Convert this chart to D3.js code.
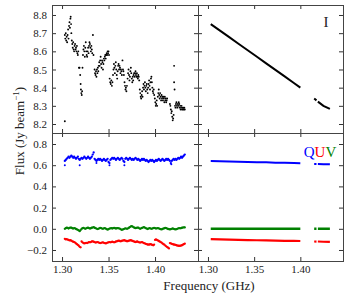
<!DOCTYPE html>
<html>
<head>
<meta charset="utf-8">
<script src="https://cdn.jsdelivr.net/npm/d3@7"></script>
<style>
  html, body { margin: 0; padding: 0; background: #fff; }
  svg { display: block; }
  text { font-family: "Liberation Serif", "DejaVu Serif", serif; fill: #222; }
</style>
</head>
<body>
<svg id="chart" width="350" height="300"></svg>
<script>
// ---------- DATA ----------
// Stokes I data points: [frequency GHz, flux Jy/beam]
const dataI = [
  [1.3030,8.215],
  [1.3030,8.69],[1.3035,8.67],[1.3040,8.70],[1.3045,8.66],[1.3050,8.68],[1.3055,8.65],[1.3060,8.69],[1.3065,8.72],[1.3070,8.67],[1.3075,8.74],[1.3080,8.76],[1.3085,8.73],[1.3090,8.78],[1.3093,8.79],[1.3097,8.75],[1.3100,8.70],[1.3105,8.66],
  [1.3110,8.64],[1.3115,8.62],[1.3120,8.65],[1.3125,8.61],[1.3130,8.60],[1.3135,8.63],[1.3140,8.64],[1.3145,8.61],[1.3150,8.62],[1.3155,8.60],[1.3160,8.63],[1.3165,8.59],[1.3170,8.58],[1.3175,8.60],
  [1.3182,8.51],[1.3188,8.51],[1.3195,8.47],[1.3200,8.42],[1.3203,8.39],[1.3207,8.37],[1.3212,8.36],[1.3216,8.38],[1.3220,8.51],
  [1.3225,8.58],[1.3230,8.61],[1.3235,8.63],[1.3240,8.60],[1.3245,8.57],[1.3250,8.62],[1.3255,8.65],[1.3260,8.60],[1.3265,8.58],[1.3270,8.57],[1.3275,8.60],[1.3280,8.62],[1.3285,8.59],[1.3290,8.63],[1.3295,8.65],[1.3300,8.64],[1.3305,8.62],[1.3310,8.60],[1.3315,8.63],[1.3320,8.61],[1.3325,8.59],[1.3332,8.69],[1.3338,8.58],
  [1.3350,8.50],[1.3355,8.48],[1.3360,8.47],[1.3365,8.49],[1.3370,8.46],[1.3375,8.50],[1.3380,8.48],[1.3385,8.51],[1.3390,8.49],[1.3395,8.52],[1.3400,8.54],
  [1.3405,8.52],[1.3410,8.55],[1.3415,8.57],[1.3420,8.53],[1.3425,8.51],[1.3430,8.55],[1.3435,8.54],[1.3440,8.50],[1.3445,8.53],[1.3450,8.56],[1.3455,8.55],[1.3460,8.57],[1.3465,8.58],[1.3470,8.56],[1.3475,8.58],[1.3480,8.59],[1.3485,8.58],[1.3490,8.60],[1.3495,8.59],[1.3500,8.60],[1.3505,8.58],
  [1.3512,8.45],[1.3518,8.43],[1.3524,8.42],[1.3530,8.44],[1.3536,8.41],[1.3542,8.43],
  [1.3548,8.47],[1.3553,8.50],[1.3558,8.53],[1.3563,8.51],[1.3568,8.48],[1.3573,8.52],[1.3578,8.54],[1.3583,8.50],[1.3588,8.47],[1.3593,8.45],[1.3598,8.49],[1.3603,8.52],[1.3608,8.53],[1.3613,8.50],[1.3618,8.52],[1.3623,8.51],[1.3628,8.48],[1.3633,8.50],[1.3638,8.49],[1.3643,8.47],[1.3650,8.55],[1.3655,8.50],[1.3660,8.49],[1.3665,8.47],
  [1.3672,8.43],[1.3677,8.41],[1.3682,8.39],[1.3687,8.40],[1.3692,8.38],[1.3698,8.41],
  [1.3705,8.45],[1.3710,8.48],[1.3715,8.50],[1.3720,8.47],[1.3725,8.44],[1.3730,8.46],[1.3735,8.49],[1.3740,8.51],[1.3745,8.48],[1.3750,8.45],[1.3755,8.43],[1.3760,8.46],[1.3765,8.44],[1.3770,8.47],[1.3775,8.48],
  [1.3780,8.46],[1.3785,8.48],[1.3790,8.49],[1.3795,8.47],[1.3800,8.46],[1.3805,8.48],[1.3810,8.46],[1.3815,8.45],[1.3820,8.47],[1.3825,8.46],[1.3830,8.44],
  [1.3836,8.39],[1.3841,8.37],[1.3846,8.35],[1.3851,8.34],[1.3856,8.36],[1.3861,8.38],[1.3866,8.35],
  [1.3871,8.40],[1.3876,8.42],[1.3881,8.39],[1.3886,8.41],[1.3891,8.43],[1.3896,8.40],[1.3901,8.38],[1.3906,8.41],[1.3911,8.42],[1.3916,8.39],[1.3921,8.37],[1.3926,8.40],[1.3931,8.42],[1.3936,8.44],[1.3941,8.41],[1.3946,8.39],[1.3951,8.43],[1.3956,8.45],[1.3961,8.46],[1.3966,8.43],[1.3971,8.40],[1.3976,8.38],[1.3981,8.37],[1.3986,8.39],[1.3991,8.36],
  [1.3998,8.34],[1.4003,8.32],[1.4008,8.30],[1.4013,8.31],[1.4018,8.33],[1.4023,8.30],
  [1.4030,8.35],[1.4035,8.37],[1.4040,8.39],[1.4045,8.36],[1.4050,8.34],[1.4055,8.37],[1.4060,8.35],[1.4065,8.33],[1.4070,8.36],[1.4075,8.34],[1.4080,8.35],[1.4085,8.33],[1.4090,8.35],[1.4095,8.34],[1.4100,8.32],[1.4105,8.35],[1.4110,8.33],[1.4115,8.34],[1.4120,8.32],[1.4125,8.33],[1.4130,8.34],
  [1.4160,8.31],[1.4165,8.30],[1.4170,8.28],[1.4175,8.26],[1.4180,8.27],[1.4185,8.24],[1.4190,8.22],[1.4195,8.23],[1.4200,8.25],
  [1.4205,8.52],[1.4205,8.43],[1.4210,8.39],
  [1.4215,8.30],[1.4220,8.29],[1.4225,8.31],[1.4230,8.32],[1.4235,8.30],[1.4240,8.29],[1.4245,8.31],[1.4250,8.30],[1.4255,8.32],[1.4260,8.31],[1.4265,8.29],[1.4270,8.30],[1.4275,8.28],[1.4280,8.29],[1.4285,8.30],[1.4290,8.28],[1.4295,8.29],[1.4300,8.28],[1.4305,8.29],[1.4310,8.28],[1.4315,8.29],[1.4320,8.28]
];

// Channel frequencies (GHz) for the Q, U, V data
const freqQUV = [
  1.303,1.304,1.305,1.306,1.307,1.308,1.309,1.310,1.311,1.312,1.313,1.314,1.315,1.316,1.317,1.318,1.319,1.320,1.321,1.322,
  1.323,1.324,1.325,1.326,1.327,1.328,1.329,1.330,1.331,1.332,1.333,1.334,1.335,1.336,1.337,1.338,1.339,1.340,1.341,1.342,
  1.343,1.344,1.345,1.346,1.347,1.348,1.349,1.350,1.351,1.352,1.353,1.354,1.355,1.356,1.357,1.358,1.359,1.360,1.361,1.362,
  1.363,1.364,1.365,1.366,1.367,1.368,1.369,1.370,1.371,1.372,1.373,1.374,1.375,1.376,1.377,1.378,1.379,1.380,1.381,1.382,
  1.383,1.384,1.385,1.386,1.387,1.388,1.389,1.390,1.391,1.392,1.393,1.394,1.395,1.396,1.397,1.398,1.399,1.400,1.401,1.402,
  1.403,1.404,1.405,1.406,1.407,1.408,1.409,1.410,1.411,1.412,1.413,1.414,1.415,1.416,1.417,1.418,1.419,1.420,1.421,1.422,
  1.423,1.424,1.425,1.426,1.427,1.428,1.429,1.430,1.431,1.432
];
const valQ = [
  0.64,0.65,0.66,0.67,0.68,0.67,0.68,0.69,0.68,0.67,0.68,0.67,0.66,0.67,0.68,0.66,0.65,0.66,0.67,0.66,
  0.67,0.68,0.67,0.66,0.67,0.68,0.67,0.66,0.67,0.68,0.70,0.72,0.66,0.65,0.64,0.65,0.66,0.65,0.66,0.65,
  0.64,0.65,0.66,0.65,0.64,0.65,0.66,0.63,0.62,0.65,0.66,0.67,0.66,0.67,0.66,0.65,0.66,0.67,0.66,0.65,
  0.66,0.67,0.66,0.64,0.63,0.66,0.67,0.66,0.65,0.66,0.67,0.66,0.65,0.66,0.65,0.66,0.67,0.66,0.65,0.66,
  0.65,0.64,0.65,0.66,0.65,0.66,0.65,0.64,0.65,0.64,0.63,0.64,0.65,0.64,0.65,0.64,0.63,0.64,0.65,0.64,
  0.65,0.66,0.65,0.64,0.65,0.66,0.65,0.64,0.65,0.66,0.65,0.66,0.65,0.64,0.62,0.64,0.65,0.66,0.65,0.66,
  0.65,0.66,0.67,0.66,0.67,0.68,0.67,0.68,0.69,0.70
];
const outliersQ = [[1.303,0.60],[1.319,0.60],[1.337,0.62],[1.351,0.60],[1.367,0.60],[1.4175,0.61]];
const valU = [
  -0.095,-0.100,-0.098,-0.102,-0.105,-0.110,-0.108,-0.112,-0.118,-0.122,-0.125,-0.130,-0.138,-0.145,-0.152,-0.160,-0.170,-0.175,-0.120,-0.128,
  -0.135,-0.138,-0.135,-0.132,-0.135,-0.130,-0.125,-0.128,-0.125,-0.120,-0.118,-0.122,-0.125,-0.130,-0.128,-0.125,-0.128,-0.132,-0.135,-0.132,
  -0.130,-0.128,-0.132,-0.135,-0.138,-0.135,-0.130,-0.128,-0.125,-0.128,-0.125,-0.122,-0.125,-0.128,-0.125,-0.120,-0.118,-0.115,-0.112,-0.115,
  -0.118,-0.115,-0.112,-0.110,-0.108,-0.112,-0.115,-0.118,-0.115,-0.112,-0.110,-0.108,-0.112,-0.115,-0.118,-0.122,-0.125,-0.122,-0.120,-0.125,
  -0.128,-0.130,-0.128,-0.125,-0.130,-0.135,-0.138,-0.142,-0.145,-0.148,-0.150,-0.148,-0.145,-0.148,-0.152,-0.155,-0.150,-0.105,-0.100,-0.105,
  -0.110,-0.115,-0.120,-0.125,-0.130,-0.138,-0.145,-0.150,-0.158,-0.165,-0.172,-0.178,-0.185,-0.135,-0.138,-0.142,-0.145,-0.148,-0.150,-0.152,
  -0.155,-0.158,-0.160,-0.162,-0.160,-0.158,-0.155,-0.150,-0.145,-0.140
];
const valV = [
  0.000,0.005,0.010,0.008,0.003,0.008,0.012,0.010,0.005,0.002,0.006,0.004,-0.002,-0.006,-0.010,-0.015,-0.022,-0.012,0.000,0.005,
  0.008,0.004,0.000,0.004,0.008,0.010,0.006,0.002,0.005,0.010,0.012,0.015,0.010,0.006,0.002,-0.003,0.000,0.004,0.008,0.006,
  0.002,0.000,0.004,0.006,0.002,-0.004,-0.008,-0.004,0.002,0.004,0.006,0.003,0.006,0.008,0.005,0.002,0.005,0.007,0.004,0.002,
  -0.004,-0.010,-0.008,-0.004,0.000,0.004,0.002,0.000,0.004,0.010,0.016,0.022,0.025,0.020,0.014,0.010,0.006,0.008,0.012,0.010,
  0.004,0.000,0.004,0.008,0.012,0.016,0.012,0.006,0.002,-0.002,0.002,0.006,0.004,0.000,0.002,0.006,0.008,0.006,0.002,0.004,
  0.006,0.004,0.000,-0.004,-0.006,-0.002,0.002,0.005,0.008,0.006,0.002,-0.002,-0.004,-0.006,-0.004,0.000,0.003,0.000,-0.004,-0.006,
  -0.004,0.000,0.004,0.006,0.004,0.006,0.010,0.012,0.014,0.013
];

// Model (right panels); null marks gaps between sub-bands
const modelFreq = [1.303,1.313,1.323,1.333,1.343,1.353,1.363,1.373,1.383,1.393,1.400,null,1.415,1.4175,null,1.419,1.425,1.432];
const modelI = [8.750,8.714,8.678,8.642,8.606,8.570,8.534,8.498,8.462,8.426,8.400,null,8.340,8.330,null,8.323,8.300,8.283];
const modelQ = [0.640,0.638,0.636,0.633,0.631,0.629,0.627,0.624,0.622,0.620,0.618,null,0.612,0.612,null,0.611,0.610,0.609];
const modelU = [-0.098,-0.100,-0.102,-0.104,-0.106,-0.108,-0.110,-0.111,-0.113,-0.114,-0.115,null,-0.120,-0.121,null,-0.120,-0.122,-0.124];
const modelV = [0,0,0,0,0,0,0,0,0,0,0,null,0,0,null,0,0,0];

const xTicks = [1.30, 1.35, 1.40];
const yTicksTop = [8.2, 8.3, 8.4, 8.5, 8.6, 8.7, 8.8];
const yTicksBot = [-0.2, 0.0, 0.2, 0.4, 0.6, 0.8];
const colQ = "#0000ff", colU = "#ff0000", colV = "#008000";

// ---------- LAYOUT ----------
const svg = d3.select("#chart");
const L = 52, M = 198, R = 343, T = 5, H = 133, B = 261;
const xDomain = [1.2892, 1.4462];
const xLeft = d3.scaleLinear().domain(xDomain).range([L, M]);
const xRight = d3.scaleLinear().domain(xDomain).range([M, R]);
const yTop = d3.scaleLinear().domain([8.1505, 8.855]).range([H, T]);
const yBot = d3.scaleLinear().domain([-0.3038, 0.9038]).range([B, H]);

const panels = [
  {x: xLeft, y: yTop, yt: yTicksTop, labelY: true, labelX: false},
  {x: xRight, y: yTop, yt: yTicksTop, labelY: false, labelX: false},
  {x: xLeft, y: yBot, yt: yTicksBot, labelY: true, labelX: true},
  {x: xRight, y: yBot, yt: yTicksBot, labelY: false, labelX: true}
];

const tickLen = 4;
panels.forEach(p => {
  const [x0, x1] = p.x.range();
  const [y1, y0] = p.y.range();
  const g = svg.append("g");
  const ab = d3.axisBottom(p.x).tickValues(xTicks).tickSize(-tickLen).tickPadding(4)
    .tickFormat(p.labelX ? d3.format(".2f") : () => "");
  g.append("g").attr("transform", `translate(0,${y1})`).call(ab);
  g.append("g").attr("transform", `translate(0,${y0})`)
    .call(d3.axisTop(p.x).tickValues(xTicks).tickSize(-tickLen).tickFormat(() => ""));
  const al = d3.axisLeft(p.y).tickValues(p.yt).tickSize(-tickLen).tickPadding(5)
    .tickFormat(p.labelY ? d3.format(".1f") : () => "");
  g.append("g").attr("transform", `translate(${x0},0)`).call(al);
  g.append("g").attr("transform", `translate(${x1},0)`)
    .call(d3.axisRight(p.y).tickValues(p.yt).tickSize(-tickLen).tickFormat(() => ""));
  g.selectAll(".domain").remove();
  g.selectAll(".tick line").attr("stroke", "#333").attr("stroke-width", 1);
  g.selectAll(".tick text").attr("font-family", "Liberation Serif, serif").attr("font-size", 11).attr("fill", "#333");
  g.append("rect").attr("x", x0 + 0.5).attr("y", y0 + 0.5)
    .attr("width", x1 - x0).attr("height", y1 - y0)
    .attr("fill", "none").attr("stroke", "#444").attr("stroke-width", 1);
});

// ---------- DATA MARKS ----------
svg.append("g").selectAll("circle").data(dataI).join("circle")
  .attr("cx", d => xLeft(d[0])).attr("cy", d => yTop(d[1])).attr("r", 0.95).attr("fill", "#000");

const quv = [[valV, colV], [valU, colU], [valQ, colQ]];
quv.forEach(([vals, col]) => {
  svg.append("g").selectAll("circle").data(freqQUV.map((f, i) => [f, vals[i]])).join("circle")
    .attr("cx", d => xLeft(d[0])).attr("cy", d => yBot(d[1])).attr("r", 1.15).attr("fill", col);
});
svg.append("g").selectAll("circle").data(outliersQ).join("circle")
  .attr("cx", d => xLeft(d[0])).attr("cy", d => yBot(d[1])).attr("r", 1.0).attr("fill", colQ);

function modelLine(vals, y) {
  return d3.line()
    .defined((d, i) => modelFreq[i] !== null && vals[i] !== null)
    .x((d, i) => xRight(modelFreq[i]))
    .y((d, i) => y(vals[i]))(vals);
}
svg.append("path").attr("d", modelLine(modelI, yTop)).attr("fill", "none").attr("stroke", "#000").attr("stroke-width", 2);
svg.append("path").attr("d", modelLine(modelQ, yBot)).attr("fill", "none").attr("stroke", colQ).attr("stroke-width", 2);
svg.append("path").attr("d", modelLine(modelV, yBot)).attr("fill", "none").attr("stroke", colV).attr("stroke-width", 2.4);
svg.append("path").attr("d", modelLine(modelU, yBot)).attr("fill", "none").attr("stroke", colU).attr("stroke-width", 2.2);

// ---------- TEXT ----------
svg.append("text").attr("x", 326).attr("y", 27).attr("text-anchor", "middle")
  .attr("font-size", 15).attr("fill", "#111").text("I");

const quvLabel = svg.append("text").attr("x", 320).attr("y", 157).attr("text-anchor", "middle").attr("font-size", 15);
quvLabel.append("tspan").attr("fill", colQ).text("Q");
quvLabel.append("tspan").attr("fill", colU).text("U");
quvLabel.append("tspan").attr("fill", colV).text("V");

const yl = svg.append("text").attr("transform", "translate(24,131) rotate(-90)")
  .attr("text-anchor", "middle").attr("font-size", 13).attr("fill", "#222");
yl.append("tspan").text("Flux (Jy beam");
yl.append("tspan").attr("font-size", 9).attr("dy", -5).text("−1");
yl.append("tspan").attr("dy", 5).text(")");

svg.append("text").attr("x", 209).attr("y", 290).attr("text-anchor", "middle")
  .attr("font-size", 13).attr("fill", "#222").text("Frequency (GHz)");
</script>
</body>
</html>
